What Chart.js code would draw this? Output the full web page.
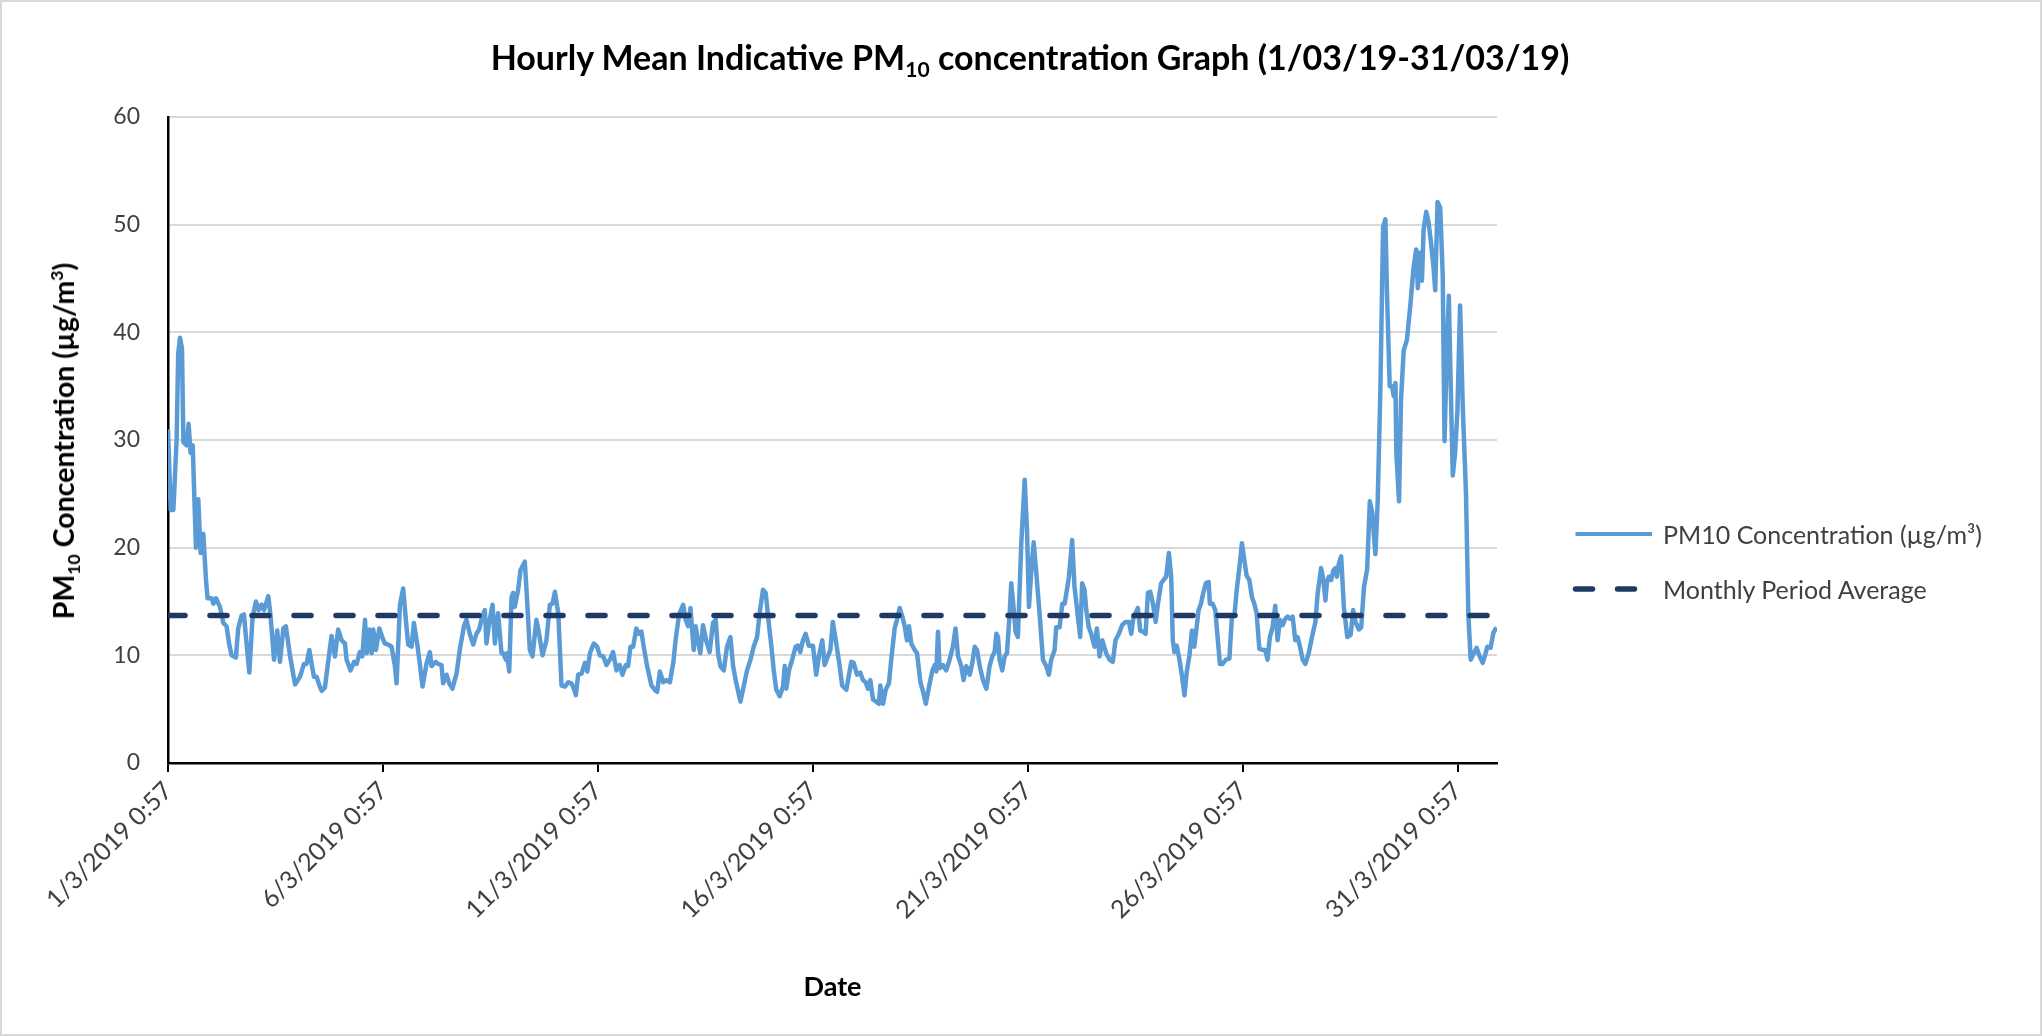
<!DOCTYPE html>
<html lang="en">
<head>
<meta charset="utf-8">
<title>Hourly Mean Indicative PM10 concentration Graph</title>
<script src="https://cdn.jsdelivr.net/npm/chart.js@4.4.1/dist/chart.umd.min.js"></script>
<style>
  html, body { margin: 0; padding: 0; background: #fff; }
  #chart-wrap { position: relative; width: 2042px; height: 1036px; font-family: Lato, "Open Sans", sans-serif; }
  #chart { position: absolute; left: 0; top: 0; }
  .frame { position: absolute; inset: 0; border: 2px solid #d9d9d9; pointer-events: none; }
  .chart-title { position: absolute; left: 1030px; top: 36px; transform: translateX(-50%); font-size: 34px; font-weight: bold; white-space: nowrap; color: #000; }
  .y-title { position: absolute; left: 63px; top: 441px; transform: translate(-50%, -50%) rotate(-90deg); font-size: 28.5px; font-weight: bold; white-space: nowrap; color: #000; }
  sub { font-size: 0.62em; vertical-align: -0.35em; line-height: 0; }
  sup { font-size: 0.62em; vertical-align: 0.6em; line-height: 0; }
  .legend { position: absolute; left: 1572px; top: 506px; }
  .legend-item { display: flex; align-items: center; height: 55px; font-size: 25px; color: #404040; white-space: nowrap; }
  .legend-item svg { margin-right: 9px; }
</style>
</head>
<body>
<div id="chart-wrap">
  <canvas id="chart" width="2042" height="1036"></canvas>
  <div class="chart-title">Hourly Mean Indicative PM<sub>10</sub> concentration Graph (1/03/19-31/03/19)</div>
  <div class="y-title">PM<sub>10</sub> Concentration (µg/m<sup>3</sup>)</div>
  <div class="legend" id="legend"></div>
  <div class="frame"></div>
</div>
<script>
/* ====== DATA ====== */
// x = hours after 1/3/2019 0:57
const tickLabels = [
  "1/3/2019 0:57",
  "6/3/2019 0:57",
  "11/3/2019 0:57",
  "16/3/2019 0:57",
  "21/3/2019 0:57",
  "26/3/2019 0:57",
  "31/3/2019 0:57",
];
const seriesNames = ["PM10 Concentration (µg/m³)", "Monthly Period Average"];
const lastHour = 742;
const periodAverage = 13.7;

const hoursFromStart = [
  0, 1.5, 3, 4.8, 5.7, 6.7, 7.8, 8.6, 10.4, 11.5, 12.6, 13.8, 15.6, 16.9, 18.2, 19.7, 21.2, 22.1, 24.4, 25.3,
  26.8, 29, 30.9, 32.7, 34.2, 35.5, 37.9, 39.2, 41.1, 42.4, 43.9, 45.4, 47.2, 49.1, 50.6, 52.3, 53.6, 56, 57.3,
  59.2, 61, 62.5, 64.4, 65.8, 68.1, 70.9, 73.7, 75.9, 77.4, 78.9, 80.2, 81.5, 83, 84.5, 85.8, 87.6, 89.5,
  91.3, 93.2, 95, 96.9, 98.8, 99.7, 101.9, 103.9, 105.3, 107.1, 108.5, 110, 110.9, 112.4, 113.7, 114.6, 116.1,
  118, 119.8, 121.1, 123, 124.8, 126.7, 127.6, 129.5, 131.3, 132.8, 134.1, 136, 137.3, 139.1, 140.6, 142.1,
  144.3, 146.2, 147.1, 149.5, 150.8, 152.7, 153.6, 155.5, 157, 158.8, 161.1, 162.9, 165.2, 166.6, 168.5, 170.4,
  172.2, 173.7, 175.6, 176.9, 177.8, 179.3, 181.2, 182.5, 184.3, 186.2,
  187.1, 188.6, 189.3, 190.5, 191.8, 192.7, 193.6, 195.5, 196.8, 199.2, 200.5, 202, 203.5, 205.7, 207.2, 209.1,
  211.3, 213.2, 214.7, 216, 217.9, 219.7, 221.6, 223.4, 225.3, 226.6, 227.7, 229, 230.9, 232.8, 234.1, 235.6,
  237.7, 239.6, 241.1, 243, 244.8, 247, 248.5, 250.4, 252.2, 253.7, 255.6, 256.9, 258.2, 259.7, 261.5, 263,
  264.3, 265.6, 267.5, 269.9, 271.8, 273.1, 274.6, 276.5, 278.3, 280.2, 282.1, 283.6, 285.4,
  287.6, 289, 290.4, 291.7, 293.5, 294.6, 295.9, 297.2, 298.7, 300.6, 302.4, 304.3, 305.8, 307.1, 308.4, 310.3,
  312.1, 314, 315.5, 317.3, 319.6, 321.4, 323.3, 325.2, 327, 328.9, 330.3, 332.2, 333.7, 335.6, 336.9, 338.2,
  339.6, 341.5, 343.4, 344.3, 345.2, 346.7, 348.5, 350.4, 351.7, 353, 354.5, 356, 357.8, 360.1, 361.9, 363.4,
  365.3, 366.6, 368.4, 369.8, 371.2, 373.1, 375, 376.4, 378.7,
  381.5, 382.8, 384.7, 386.5, 388, 389.5, 390.8, 392.1, 393.6, 395.4, 396.9, 397.7, 399.2, 400.7, 402.5, 403.8,
  405.7, 407, 408.5, 410, 411.3, 412.6, 413.7, 415, 416.9, 418.2, 420.1, 421.6, 423.1, 424.9, 426.8, 428.1,
  429, 429.9, 430.8, 432.7, 434.5, 436.4, 438.2, 439.7, 441.1, 442.9, 444.2, 445.7, 447.6, 449.1, 450.4, 451.7,
  453.2, 455, 456.9, 458.7, 460.2, 461.5, 462.5, 463.4, 464.3, 465.8, 467.1, 468.4, 469.9, 470.8, 471.8, 473.2,
  474.5,
  476.4, 478.3, 479.6, 480.7, 482, 483.3, 484.8, 486.6, 488.5, 490.3, 491.8, 493.1, 495, 495.9, 497.8, 499.3,
  500.6, 501.9, 503, 504.8, 506.1, 508, 509.3, 510.4, 511.7, 512.7, 514.1, 515.4, 517.3, 518.6, 520.1, 521.6,
  523.8, 525.7, 527.5, 529, 530.9, 532.7, 534.6, 536.5, 537.8, 539.1, 540.2, 541.5, 542.8, 544.3, 545.8, 547.1,
  548.4, 549.9, 551.4, 552.7, 554.5, 555.8, 557.3, 558.8, 560.1, 561, 561.9, 563.2, 564.7, 566.2, 567.5, 568.8,
  570.3,
  571.7, 573, 574.3, 575.4, 576.7, 578, 579.5, 581, 581.7, 583.2, 584.7, 586, 587.3, 588.8, 590.7, 592.6,
  594, 595.4, 596.7, 598.2, 599.6, 600.9, 602.2, 603.7, 605.2, 606.5, 607.8, 609.3, 611.2, 612.6, 613.9, 615.2,
  616.7, 618.2, 619.5, 620.8, 622.3, 623.8, 625.1, 626.4, 627.9, 629.4, 630.7, 632, 633.5, 635, 636.9, 638.7,
  640.6, 641.9, 643.8, 645.1, 646.2, 647, 648.1, 649.4, 650.7, 651.8, 652.6, 653.7, 655,
  656.5, 658.4, 660.3, 661.7, 663, 664.9, 666.2, 667.7, 669.5, 671, 672.3, 674.1, 675.4, 676.9, 678.4, 679.7,
  680.6, 682.1, 683.4, 684.3, 685.3, 685.8, 687.3, 688.4, 689.9, 691.7, 693.6, 695.4, 696.9, 697.8, 698.8, 700.1,
  701, 702.5, 703.8, 705.1, 706.6, 707.5, 708.8, 710.3, 711.7, 712.7, 714, 715.1, 716.2, 717.3, 718.6, 719.9,
  721.4, 722.9, 724.7, 726, 727.3, 728.8, 730.6, 732.1, 734, 735.3, 736.6, 738.4, 740, 741.8,
];

const pm10Values = [
  31, 23.5, 23.5, 30, 38, 39.5, 38.5, 29.8, 29.5, 31.5, 28.8, 29.5, 20, 24.5, 19.5, 21.3, 17, 15.3, 15.3, 14.8,
  15.3, 14.5, 13, 12.7, 11, 10, 9.8, 12.5, 13.7, 13.8, 11, 8.4, 13.5, 15, 14.2, 14.7, 14.2, 15.5, 13.6,
  9.6, 12.3, 9.4, 12.5, 12.7, 10, 7.3, 8, 9.2, 9.2, 10.5, 9.2, 8, 8, 7.2, 6.7, 7, 9.5,
  11.8, 9.9, 12.4, 11.4, 11.1, 9.6, 8.6, 9.4, 9.2, 10.3, 9.9, 13.3, 10.2, 12.4, 10.2, 12.4, 10.5,
  12.5, 11.6, 11.1, 11, 10.8, 9, 7.4, 14.7, 16.2, 13.3, 11, 10.8, 13, 11.1, 9.2, 7.1,
  9.2, 10.3, 9, 9.4, 9.2, 9.1, 7.4, 8.2, 7.4, 6.9, 8.3, 10.5, 12.7, 13.3, 12, 11,
  12, 12.4, 13.7, 14.2, 11.1, 13, 14.7, 11.1, 13.9, 10.2,
  10.2, 9.6, 10.2, 8.5, 15.4, 15.8, 14.5, 16.1, 17.9, 18.7, 15.1, 10.5, 9.9, 13.3, 12, 10,
  11.4, 14.7, 14.8, 15.9, 13.9, 7.2, 7.1, 7.5, 7.4, 6.9, 6.3, 8.2, 8.3, 9.3, 8.5, 10.2,
  11.1, 10.8, 10, 9.9, 9.1, 9.7, 10.3, 8.6, 9.1, 8.2, 9.1, 9, 10.8, 10.8, 12.5, 12,
  12.2, 10.8, 9, 7.2, 6.8, 6.6, 8.5, 7.5, 7.7, 7.5, 9.3, 11.7, 13.8,
  14.7, 13.3, 12.7, 14.4, 10.5, 12.7, 11.3, 10.2, 12.8, 11.3, 10.3, 13, 13.3, 10.2, 9, 8.6,
  10.8, 11.7, 9, 7.4, 5.7, 7.1, 8.6, 9.6, 10.8, 11.7, 13.9, 16.1, 15.8, 12.7, 10.8, 8.6,
  6.8, 6.2, 7.1, 9, 6.9, 8.6, 9.6, 10.8, 10.9, 10.3, 11.4, 12, 10.9, 10.9, 8.2, 9.9,
  11.4, 9.1, 9.9, 10.5, 13.1, 11.1, 9, 7.2, 6.8,
  9.4, 9.3, 8.2, 8.4, 7.7, 7.5, 6.9, 7.7, 5.9, 5.7, 5.5, 7.2, 5.5, 6.8, 7.4, 9.6,
  12.5, 13.3, 14.4, 13.6, 12.7, 11.4, 12.7, 11.1, 10.5, 10.2, 7.5, 6.6, 5.5, 7.1, 8.6, 9.1,
  8.5, 12.2, 8.8, 9.1, 8.6, 9.6, 10.8, 12.5, 9.9, 9, 7.7, 9, 8.2, 9.3, 10.8, 10.5,
  9, 7.7, 6.9, 9, 9.9, 10.3, 12, 11.7, 9.6, 8.6, 9.9, 10.2, 13.9, 16.7, 15, 12.2,
  11.7,
  20.4, 26.3, 21.6, 14.5, 17.9, 20.5, 17.6, 13.9, 9.6, 9, 8.2, 9.6, 10.5, 12.6, 12.6, 14.8,
  14.8, 16.1, 17.3, 20.7, 16.4, 13.6, 11.7, 16.7, 16.1, 14.2, 12.6, 12, 10.8, 12.5, 9.9, 11.4,
  10.2, 9.6, 9.4, 11.4, 12, 12.8, 13.1, 13.1, 12, 13.6, 13.9, 14.4, 12.3, 12.2, 12, 15.8,
  15.9, 14.8, 13.1, 14.8, 16.7, 17, 17.3, 19.5, 17.3, 11.4, 10.3, 10.9, 9.6, 8, 6.3, 8.5,
  10,
  12.3, 10.8, 12.6, 14.2, 14.8, 15.8, 16.7, 16.8, 14.8, 14.8, 14.2, 11.7, 9.2, 9.2, 9.6, 9.7,
  13.6, 13.7, 16.1, 18.2, 20.4, 18.9, 17.4, 17, 15.4, 14.8, 13.9, 10.6, 10.5, 10.5, 9.6, 11.7,
  12.6, 14.6, 11.4, 13.3, 12.8, 13.4, 13.6, 13.4, 13.6, 11.4, 11.7, 10.8, 9.6, 9.2, 10.2, 11.7,
  13.1, 15.8, 18.1, 17, 15.1, 16.7, 17.3, 17, 17.9, 18.1, 17.3, 18.5, 19.2,
  14.5, 11.7, 11.9, 14.2, 13.1, 12.4, 12.6, 16.3, 18, 24.3, 23.3, 19.4, 24.3, 34.8, 49.8, 50.5,
  43.5, 35, 35, 34.1, 35.3, 28.8, 24.3, 33.7, 38.3, 39.3, 42.5, 46, 47.7, 44.1, 47.4, 44.8,
  49.5, 51.2, 50.2, 48.4, 46, 43.9, 52.1, 51.6, 45.3, 29.9, 38.3, 43.4, 34.8, 26.7, 28.8, 32.7,
  42.5, 33, 25, 13.8, 9.6, 10.1, 10.7, 10, 9.3, 10, 10.8, 10.7, 12.1, 12.6,
];

const lineColor = "#5B9BD5";
const averageColor = "#1F3864";

/* ====== CHART ====== */
const ctx = document.getElementById("chart");
new Chart(ctx, {
  type: "line",
  data: {
    datasets: [
      {
        label: seriesNames[1],
        data: [
          { x: 0, y: periodAverage },
          { x: lastHour, y: periodAverage },
        ],
        borderColor: averageColor,
        borderWidth: 5.5,
        borderDash: [17, 25],
        borderCapStyle: "round",
        pointRadius: 0,
        order: 0,
      },
      {
        label: seriesNames[0],
        data: hoursFromStart.map((h, i) => ({ x: h, y: pm10Values[i] })),
        borderColor: lineColor,
        borderWidth: 4.5,
        borderJoinStyle: "round",
        pointRadius: 0,
        tension: 0,
        order: 1,
      },
    ],
  },
  options: {
    responsive: false,
    animation: false,
    layout: { padding: { left: 98, right: 545, top: 117, bottom: 20 } },
    plugins: {
      legend: { display: false },
      tooltip: { enabled: false },
    },
    scales: {
      x: {
        type: "linear",
        min: 0,
        max: lastHour,
        afterFit: (scale) => {
          scale.height = 253;
        },
        grid: { drawOnChartArea: false, color: "#000", lineWidth: 2, tickLength: 9 },
        border: { color: "#000", width: 2.5 },
        ticks: {
          stepSize: 120,
          includeBounds: false,
          autoSkip: false,
          minRotation: 45,
          maxRotation: 45,
          padding: 4,
          color: "#404040",
          font: { family: "Lato", size: 25 },
          callback: (v) => tickLabels[v / 120] ?? "",
        },
        title: {
          display: true,
          text: "Date",
          color: "#000",
          font: { family: "Lato", size: 27, weight: "bold" },
          padding: 13,
        },
      },
      y: {
        min: 0,
        max: 60,
        afterFit: (scale) => {
          scale.width = 70;
        },
        grid: {
          color: (c) => (c.tick && c.tick.value === 0 ? "rgba(0,0,0,0)" : "#d9d9d9"),
          lineWidth: 2,
          drawTicks: false,
        },
        border: { color: "#000", width: 2.5 },
        ticks: {
          stepSize: 10,
          padding: 28,
          color: "#404040",
          font: { family: "Lato", size: 23 },
        },
      },
    },
  },
});

/* ====== LEGEND ====== */
const legendEl = document.getElementById("legend");
const legendItems = [
  { name: seriesNames[0], color: lineColor, width: 4, dash: null },
  { name: seriesNames[1], color: averageColor, width: 5.5, dash: "17 25" },
];
legendItems.forEach((item) => {
  const row = document.createElement("div");
  row.className = "legend-item";
  const dashAttr = item.dash ? `stroke-dasharray="${item.dash}" stroke-linecap="round"` : "";
  row.innerHTML =
    `<svg width="82" height="12"><line x1="3.5" y1="6" x2="80" y2="6" stroke="${item.color}" stroke-width="${item.width}" ${dashAttr}/></svg><span></span>`;
  row.querySelector("span").textContent = item.name;
  legendEl.appendChild(row);
});
</script>
</body>
</html>
